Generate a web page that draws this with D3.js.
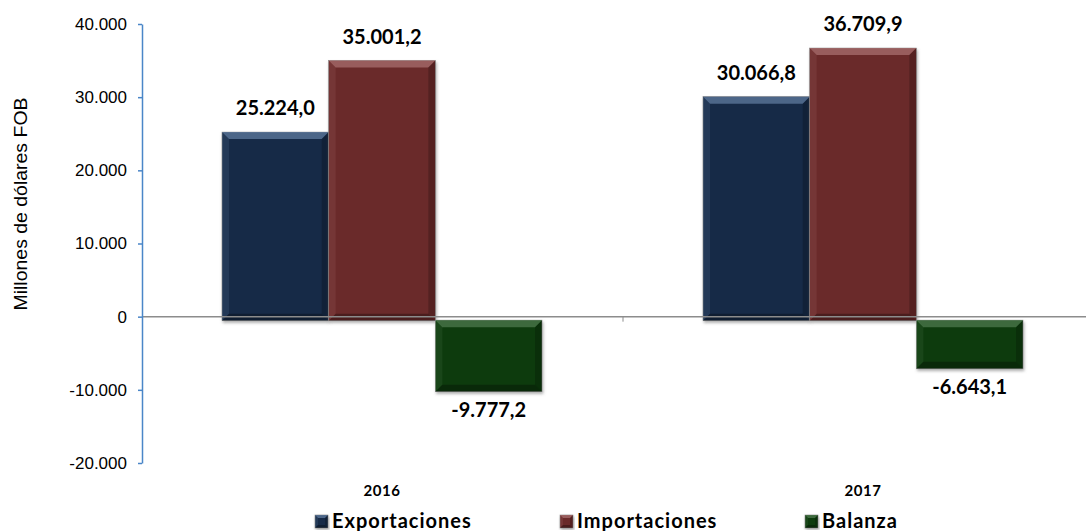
<!DOCTYPE html>
<html>
<head>
<meta charset="utf-8">
<style>
  body { margin: 0; background: #fff; }
  #chart text { font-family: "Liberation Sans", Arial, sans-serif; }
</style>
</head>
<body>
<div id="chart"></div>
<script src="https://cdn.jsdelivr.net/npm/d3@7"></script>
<script>
// data
var years = ["2016", "2017"];
var series = ["Exportaciones", "Importaciones", "Balanza"];
var exportaciones = [25224.0, 30066.8];
var importaciones = [35001.2, 36709.9];
var balanza = [-9777.2, -6643.1];
var yTicks = [-20000, -10000, 0, 10000, 20000, 30000, 40000];

var colors = { Exportaciones: "#172a47", Importaciones: "#6a2b2b", Balanza: "#0b3a0b" };
var lights = { Exportaciones: "#5a7699", Importaciones: "#a46a6a", Balanza: "#4a754a" };

var width = 1086, height = 531;

var es = d3.formatLocale({ decimal: ",", thousands: ".", grouping: [3], currency: ["", ""], minus: "-" });
var fmtTick = es.format(",.0f"), fmtVal = es.format(",.1f");

var svg = d3.select("#chart").append("svg")
    .attr("width", width)
    .attr("height", height);

var defs = svg.append("defs");
var f = defs.append("filter").attr("id", "shadow")
    .attr("x", "-10%").attr("y", "-10%").attr("width", "120%").attr("height", "120%");
f.append("feDropShadow").attr("dx", 1).attr("dy", 2).attr("stdDeviation", 1.5)
    .attr("flood-color", "#777").attr("flood-opacity", 0.6);

var y = d3.scaleLinear().domain([-20000, 40000]).range([463, 24]);
var x0 = d3.scaleBand().domain(years).range([142, 1104]);
var x1 = d3.scaleBand().domain(series).range([80, 400]);

var rows = years.map(function(yr, i) {
  return { year: yr, values: [
    { key: "Exportaciones", v: exportaciones[i] },
    { key: "Importaciones", v: importaciones[i] },
    { key: "Balanza", v: balanza[i] }
  ]};
});

// bevelled box
function bevel(g, x, yy, w, h, key, b) {
  g.append("rect").attr("x", x).attr("y", yy).attr("width", w).attr("height", h)
      .attr("fill", colors[key]).attr("stroke", "#8a8a8a").attr("stroke-width", 0.6)
      .attr("filter", "url(#shadow)");
  var pts = function(a) { return a.map(function(p) { return p.join(","); }).join(" "); };
  g.append("polygon").attr("points", pts([[x, yy], [x + w, yy], [x + w - b, yy + b], [x + b, yy + b]]))
      .attr("fill", lights[key]).attr("opacity", 0.8);
  g.append("polygon").attr("points", pts([[x, yy], [x + b, yy + b], [x + b, yy + h - b], [x, yy + h]]))
      .attr("fill", lights[key]).attr("opacity", 0.2);
  g.append("polygon").attr("points", pts([[x + w, yy], [x + w - b, yy + b], [x + w - b, yy + h - b], [x + w, yy + h]]))
      .attr("fill", "#000").attr("opacity", 0.2);
  g.append("polygon").attr("points", pts([[x, yy + h], [x + b, yy + h - b], [x + w - b, yy + h - b], [x + w, yy + h]]))
      .attr("fill", "#000").attr("opacity", 0.3);
}

var groups = svg.selectAll(".grp").data(rows).enter().append("g")
    .attr("class", "grp")
    .attr("transform", function(d) { return "translate(" + x0(d.year) + ",0)"; });

groups.each(function(d) {
  var g = d3.select(this);
  d.values.forEach(function(s) {
    var top = s.v >= 0 ? y(s.v) : y(0) + 3.5;
    var bot = s.v >= 0 ? y(0) + 4 : y(s.v) + 3.5;
    bevel(g, x1(s.key), top, x1.bandwidth(), bot - top, s.key, 7);
  });
  g.selectAll(".lbl").data(d.values).enter().append("text")
      .attr("class", "lbl")
      .attr("x", function(s) { return x1(s.key) + x1.bandwidth() / 2; })
      .attr("y", function(s) { return s.v >= 0 ? y(s.v) - 17 : y(s.v) + 29; })
      .attr("text-anchor", "middle")
      .style("font-family", "Lato, sans-serif")
      .style("font-weight", "bold")
      .style("font-size", "20px")
      .attr("fill", "#000")
      .text(function(s) { return fmtVal(s.v); });
});

// zero line over bars
svg.append("line")
    .attr("x1", 142).attr("x2", width)
    .attr("y1", y(0)).attr("y2", y(0))
    .attr("stroke", "#8c8c8c").attr("stroke-width", 1.5);
svg.append("line")
    .attr("x1", x0("2017")).attr("x2", x0("2017"))
    .attr("y1", y(0)).attr("y2", y(0) + 5)
    .attr("stroke", "#8c8c8c").attr("stroke-width", 1);

// y axis
var yAxis = svg.append("g")
    .attr("transform", "translate(142,0)")
    .call(d3.axisLeft(y).tickValues(yTicks).tickFormat(fmtTick).tickSize(4).tickSizeOuter(0).tickPadding(11));
yAxis.select(".domain").attr("stroke", "#4a86c8").attr("stroke-width", 1.5);
yAxis.selectAll(".tick line").attr("stroke", "#4a86c8").attr("stroke-width", 1.5);
yAxis.selectAll(".tick text")
    .style("font-family", "'Liberation Sans', Arial, sans-serif")
    .style("font-size", "17px")
    .attr("fill", "#000");

svg.append("text")
    .attr("transform", "translate(27,204) rotate(-90)")
    .attr("text-anchor", "middle")
    .style("font-size", "18px")
    .attr("textLength", 213)
    .attr("lengthAdjust", "spacingAndGlyphs")
    .attr("fill", "#000")
    .text("Millones de dólares FOB");

// category labels
svg.selectAll(".cat").data(years).enter().append("text")
    .attr("class", "cat")
    .attr("x", function(d) { return x0(d) + 240; })
    .attr("y", 496)
    .attr("text-anchor", "middle")
    .style("font-family", "Lato, sans-serif")
    .style("font-weight", "bold")
    .style("font-size", "15px")
    .style("letter-spacing", "0.5px")
    .attr("fill", "#000")
    .text(function(d) { return d; });

// legend
var lx = d3.scaleBand().domain(series).range([315, 1050]);
var leg = svg.selectAll(".leg").data(series).enter().append("g")
    .attr("class", "leg")
    .attr("transform", function(d) { return "translate(" + lx(d) + ",515)"; });
leg.each(function(d) { bevel(d3.select(this), 0, 0, 13, 13, d, 3); });
leg.append("text")
    .attr("x", 17).attr("y", 13)
    .style("font-family", "Lato, sans-serif")
    .style("font-weight", "bold")
    .style("font-size", "20px")
    .style("letter-spacing", "1px")
    .attr("fill", "#000")
    .text(function(d) { return d; });
</script>
</body>
</html>
